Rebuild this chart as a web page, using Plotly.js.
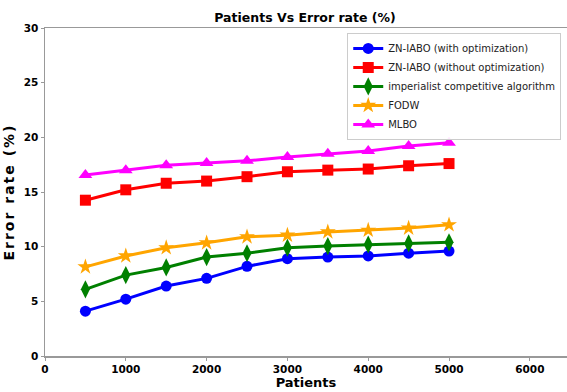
<!DOCTYPE html>
<html><head><meta charset="utf-8">
<script src="https://cdn.plot.ly/plotly-3.0.1.min.js"></script>
<style>body{margin:0;padding:0;background:#fff}#chart{width:567px;height:392px}
.ytitle{letter-spacing:2px}</style>
</head><body><div id="chart"></div>
<script>
const patients = [500,1000,1500,2000,2500,3000,3500,4000,4500,5000];
const znWith = [4.1,5.2,6.4,7.1,8.2,8.9,9.05,9.15,9.4,9.6];
const znWithout = [14.25,15.2,15.8,16.0,16.4,16.85,17.0,17.1,17.4,17.6];
const ica = [6.1,7.4,8.1,9.05,9.4,9.9,10.05,10.2,10.3,10.4];
const fodw = [8.15,9.15,9.9,10.35,10.9,11.05,11.35,11.5,11.7,12.0];
const mlbo = [16.55,17.0,17.45,17.65,17.85,18.2,18.5,18.75,19.2,19.5];
const names = ['ZN-IABO (with optimization)','ZN-IABO (without optimization)','imperialist competitive algorithm','FODW','MLBO'];
const xTicks = [0,1000,2000,3000,4000,5000,6000];
const yTicks = [0,5,10,15,20,25,30];

function tr(y, name, color, symbol, size){
  return {x: patients, y: y, name: name, mode: 'lines+markers', type: 'scatter',
    line: {color: color, width: 3}, marker: {color: color, symbol: symbol, size: size}};
}
const data = [
  tr(znWith, names[0], '#0000ff', 'circle', 11),
  tr(znWithout, names[1], '#ff0000', 'square', 11),
  tr(ica, names[2], '#008000', 'diamond-tall', 13),
  tr(fodw, names[3], '#ffa500', 'star', 12),
  tr(mlbo, names[4], '#ff00ff', 'triangle-up', 12)
];
const layout = {
  width: 567, height: 392,
  margin: {l: 45, r: 0, t: 28, b: 36, autoexpand: false},
  paper_bgcolor: '#fff', plot_bgcolor: '#fff',
  font: {family: 'DejaVu Sans', color: '#000'},
  title: {text: '<b>Patients Vs Error rate (%)</b>', font: {family: 'DejaVu Sans', size: 12.5, color: '#000'}, x: 0.538, xanchor: 'center', y: 0.955, yanchor: 'middle'},
  xaxis: {range: [0, 6460], tickvals: xTicks, ticktext: xTicks.map(v => '<b>' + v + '</b>'),
    showgrid: false, zeroline: false, showline: true, linecolor: '#999', linewidth: 1.5, mirror: true,
    ticks: 'outside', ticklen: 3, tickcolor: '#999', tickfont: {family: 'DejaVu Sans', size: 10.5, color: '#000'},
    title: {text: '<b>Patients</b>', font: {family: 'DejaVu Sans', size: 13, color: '#000'}, standoff: 4}},
  yaxis: {range: [0, 30], tickvals: yTicks, ticktext: yTicks.map(v => '<b>' + v + '</b>'),
    showgrid: false, zeroline: false, showline: true, linecolor: '#999', linewidth: 1.5, mirror: false,
    ticks: 'outside', ticklen: 3, tickcolor: '#999', tickfont: {family: 'DejaVu Sans', size: 10.5, color: '#000'},
    title: {text: '<b>Error rate (%)</b>', font: {family: 'DejaVu Sans', size: 14, color: '#000'}, standoff: 6}},
  legend: {x: 0.579, y: 0.985, xanchor: 'left', yanchor: 'top', bgcolor: 'rgba(255,255,255,0.9)',
    bordercolor: '#ccc', borderwidth: 1, font: {family: 'DejaVu Sans', size: 10, color: '#222'},
    tracegroupgap: 0, itemwidth: 30},
  showlegend: true
};
Plotly.newPlot('chart', data, layout, {displayModeBar: false, staticPlot: true});
</script></body></html>
